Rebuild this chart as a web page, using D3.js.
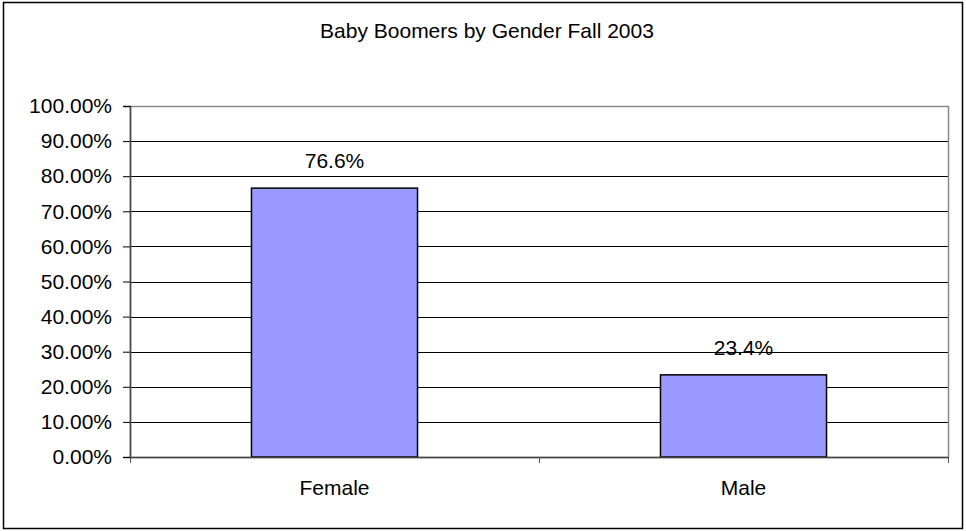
<!DOCTYPE html>
<html>
<head>
<meta charset="utf-8">
<script src="https://cdn.jsdelivr.net/npm/d3@7"></script>
<style>
  body { margin: 0; background: #fff; }
  text { font-family: "Liberation Sans", Arial, sans-serif; fill: #000; }
</style>
</head>
<body>
<div id="chart"></div>
<script>
// data
const categories = ["Female", "Male"];
const values = [76.6, 23.4];
const labels = ["76.6%", "23.4%"];
const yTicks = [0, 10, 20, 30, 40, 50, 60, 70, 80, 90, 100];

const W = 966, H = 531;
const margin = { top: 106, right: 18, bottom: 74, left: 130 };
const width = W - margin.left - margin.right,
      height = H - margin.top - margin.bottom;
const fontSize = "21px";

const svg = d3.select("#chart").append("svg")
    .attr("width", W)
    .attr("height", H);

// outer chart border
svg.append("rect")
    .attr("x", 3.5).attr("y", 2.5)
    .attr("width", 959).attr("height", 526)
    .attr("fill", "#fff")
    .attr("stroke", "#000")
    .attr("stroke-width", 1.5);

svg.append("text")
    .attr("x", 487).attr("y", 38)
    .attr("text-anchor", "middle")
    .style("font-size", fontSize)
    .text("Baby Boomers by Gender Fall 2003");

const g = svg.append("g")
    .attr("transform", "translate(" + margin.left + "," + margin.top + ")");

const x = d3.scaleBand().domain(categories).range([0, width]).paddingInner(0.594).paddingOuter(0.297);
const xTick = d3.scaleBand().domain(categories).range([0, width]);
const y = d3.scaleLinear().domain([0, 100]).range([height, 0]);

// gridlines
g.selectAll("line.grid")
    .data(yTicks.slice(1))
    .enter().append("line")
    .attr("class", "grid")
    .attr("x1", 0).attr("x2", width)
    .attr("y1", d => Math.round(y(d)) + 0.5)
    .attr("y2", d => Math.round(y(d)) + 0.5)
    .attr("stroke", "#000")
    .attr("stroke-width", 1);

// plot frame
g.append("rect")
    .attr("x", 0.5).attr("y", 0.5)
    .attr("width", width).attr("height", height)
    .attr("fill", "none")
    .attr("stroke", "#888")
    .attr("stroke-width", 1.5);

// bars
g.selectAll("rect.bar")
    .data(values)
    .enter().append("rect")
    .attr("class", "bar")
    .attr("x", (d, i) => x(categories[i]))
    .attr("y", d => y(d))
    .attr("width", x.bandwidth())
    .attr("height", d => height - y(d))
    .attr("fill", "#9999ff")
    .attr("stroke", "#000")
    .attr("stroke-width", 1.5);

// value labels
g.selectAll("text.lbl")
    .data(values)
    .enter().append("text")
    .attr("class", "lbl")
    .attr("x", (d, i) => x(categories[i]) + x.bandwidth() / 2)
    .attr("y", d => y(d) - 20)
    .attr("text-anchor", "middle")
    .style("font-size", fontSize)
    .text((d, i) => labels[i]);

// y axis
const yAxis = g.append("g")
    .call(d3.axisLeft(y).tickValues(yTicks).tickSize(7).tickPadding(11)
        .tickFormat(d => d.toFixed(2) + "%"));
yAxis.select(".domain").attr("stroke", "#444").attr("stroke-width", 1.5);
yAxis.selectAll(".tick line").attr("stroke", "#000");
yAxis.selectAll(".tick text")
    .style("font-size", fontSize)
    .style("font-family", "'Liberation Sans', Arial, sans-serif");

// x axis
const xAxis = g.append("g")
    .attr("transform", "translate(0," + height + ")")
    .call(d3.axisBottom(x).tickSize(0).tickPadding(23));
xAxis.select(".domain").attr("stroke", "#444").attr("stroke-width", 1.5);
xAxis.selectAll(".tick text")
    .style("font-size", fontSize)
    .style("font-family", "'Liberation Sans', Arial, sans-serif");

// category separator ticks
g.selectAll("line.xt")
    .data([0, 1, 2])
    .enter().append("line")
    .attr("class", "xt")
    .attr("x1", d => Math.round(d * xTick.step()) + 0.5)
    .attr("x2", d => Math.round(d * xTick.step()) + 0.5)
    .attr("y1", height).attr("y2", height + 6)
    .attr("stroke", "#555");
</script>
</body>
</html>
